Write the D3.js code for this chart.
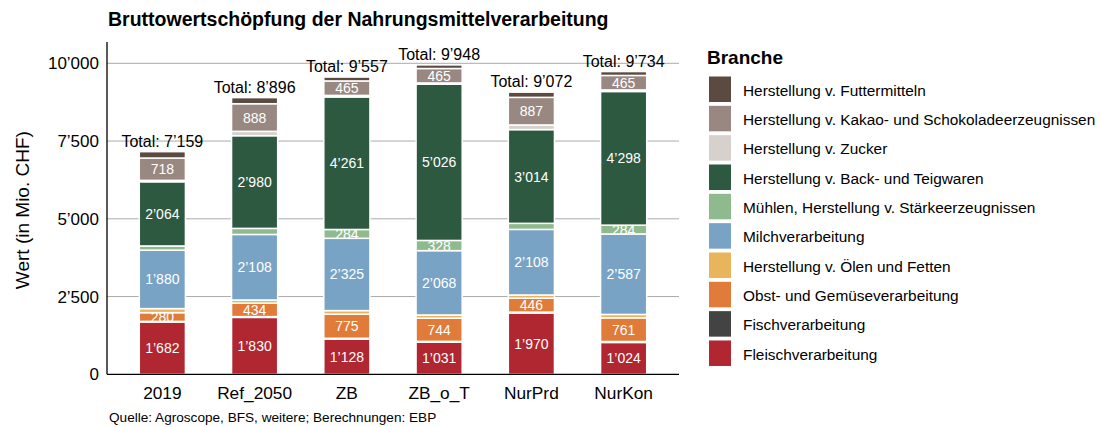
<!DOCTYPE html>
<html>
<head>
<meta charset="utf-8">
<script src="https://cdn.jsdelivr.net/npm/d3@7"></script>
<style>
  body { margin: 0; background: #fff; }
  svg { font-family: "Liberation Sans", Arial, sans-serif; }
</style>
</head>
<body>
<div id="chart"></div>
<script>
// scenarios on the x axis
const scenarios = ['2019', 'Ref_2050', 'ZB', 'ZB_o_T', 'NurPrd', 'NurKon'];

// branches, bottom of the stack first
const branches = [
  'Fleischverarbeitung',
  'Fischverarbeitung',
  'Obst- und Gemüseverarbeitung',
  'Herstellung v. Ölen und Fetten',
  'Milchverarbeitung',
  'Mühlen, Herstellung v. Stärkeerzeugnissen',
  'Herstellung v. Back- und Teigwaren',
  'Herstellung v. Zucker',
  'Herstellung v. Kakao- und Schokoladeerzeugnissen',
  'Herstellung v. Futtermitteln'
];
const colors = ['#b02631', '#434343', '#e07b39', '#e8b55c', '#79a3c5',
                '#8fba8d', '#2e5941', '#d7d1ce', '#998882', '#5b4a3f'];

// values per branch (Mio. CHF), in scenario order
const fleisch = [1682, 1830, 1128, 1031, 1970, 1024];
const fisch   = [20, 25, 30, 28, 30, 30];
const obst    = [280, 434, 775, 744, 446, 761];
const oele    = [130, 100, 115, 105, 105, 110];
const milch   = [1880, 2108, 2325, 2068, 2108, 2587];
const muehlen = [135, 195, 284, 328, 195, 284];
const back    = [2064, 2980, 4261, 5026, 3014, 4298];
const zucker  = [45, 140, 50, 38, 150, 50];
const kakao   = [718, 888, 465, 465, 887, 465];
const futter  = [205, 196, 124, 115, 167, 125];

const yTicks = [0, 2500, 5000, 7500, 10000];

const seriesValues = [fleisch, fisch, obst, oele, milch, muehlen, back, zucker, kakao, futter];
const table = scenarios.map((s, i) => {
  const row = { scenario: s };
  branches.forEach((b, j) => { row[b] = seriesValues[j][i]; });
  return row;
});

const fmt = v => d3.format(',')(v).replace(/,/g, '\u2019');

const width = 1100, height = 427;
const svg = d3.select('#chart').append('svg')
  .attr('width', width)
  .attr('height', height);

const plot = { left: 107, right: 679, top: 42, bottom: 374.3 };

const x = d3.scaleBand()
  .domain(scenarios)
  .range([plot.left, plot.right])
  .paddingInner(0.5)
  .paddingOuter(0.35);

const y = d3.scaleLinear()
  .domain([0, 10000])
  .range([plot.bottom, 63.3]);

// Title
svg.append('text')
  .attr('x', 108)
  .attr('y', 26)
  .style('font-size', '19.5px')
  .style('font-weight', 'bold')
  .text('Bruttowertschöpfung der Nahrungsmittelverarbeitung');

// Gridlines
svg.append('g')
  .selectAll('line')
  .data(yTicks.slice(1))
  .enter()
  .append('line')
  .attr('x1', plot.left)
  .attr('x2', plot.right)
  .attr('y1', d => y(d))
  .attr('y2', d => y(d))
  .attr('stroke', '#ababab')
  .attr('stroke-width', 1);

// Stacked bars
const stack = d3.stack().keys(branches)(table);

const layers = svg.append('g')
  .selectAll('g')
  .data(stack)
  .enter()
  .append('g')
  .attr('fill', (d, i) => colors[i]);

layers.selectAll('rect')
  .data(d => d)
  .enter()
  .append('rect')
  .attr('x', d => x(d.data.scenario))
  .attr('y', d => y(d[1]))
  .attr('width', x.bandwidth())
  .attr('height', d => y(d[0]) - y(d[1]))
  .attr('stroke', '#fff')
  .attr('stroke-width', 1.5);

// Segment labels (only for the larger segments)
const labelGroup = svg.append('g');
stack.forEach(layer => {
  layer.forEach(d => {
    const v = d[1] - d[0];
    if (v < 250) return;
    labelGroup.append('text')
      .attr('x', x(d.data.scenario) + x.bandwidth() / 2)
      .attr('y', y((d[0] + d[1]) / 2))
      .attr('dy', '0.36em')
      .attr('text-anchor', 'middle')
      .attr('fill', '#fff')
      .style('font-size', '14px')
      .text(fmt(v));
  });
});

// Totals
svg.append('g')
  .selectAll('text')
  .data(table)
  .enter()
  .append('text')
  .attr('x', d => x(d.scenario) + x.bandwidth() / 2)
  .attr('y', d => y(d3.sum(branches, b => d[b])) - 5)
  .attr('text-anchor', 'middle')
  .style('font-size', '16px')
  .text(d => 'Total: ' + fmt(d3.sum(branches, b => d[b])));

// Axes lines
svg.append('line')
  .attr('x1', plot.left).attr('x2', plot.left)
  .attr('y1', plot.top).attr('y2', plot.bottom)
  .attr('stroke', '#000').attr('stroke-width', 1.3);
svg.append('line')
  .attr('x1', plot.left).attr('x2', plot.right)
  .attr('y1', plot.bottom).attr('y2', plot.bottom)
  .attr('stroke', '#000').attr('stroke-width', 1.3);

// Y tick labels
svg.append('g')
  .selectAll('text')
  .data(yTicks)
  .enter()
  .append('text')
  .attr('x', 99)
  .attr('y', d => y(d))
  .attr('dy', '0.36em')
  .attr('text-anchor', 'end')
  .style('font-size', '17px')
  .text(d => fmt(d));

// X tick labels
svg.append('g')
  .selectAll('text')
  .data(scenarios)
  .enter()
  .append('text')
  .attr('x', d => x(d) + x.bandwidth() / 2)
  .attr('y', 399)
  .attr('text-anchor', 'middle')
  .style('font-size', '17.3px')
  .text(d => d);

// Y axis title
svg.append('text')
  .attr('transform', `translate(28.5, ${(plot.top + plot.bottom) / 2 + 2}) rotate(-90)`)
  .attr('text-anchor', 'middle')
  .style('font-size', '19px')
  .text('Wert (in Mio. CHF)');

// Caption
svg.append('text')
  .attr('x', 109)
  .attr('y', 422)
  .style('font-size', '13.6px')
  .text('Quelle: Agroscope, BFS, weitere; Berechnungen: EBP');

// Legend
const legend = svg.append('g').attr('transform', 'translate(707, 0)');
legend.append('text')
  .attr('x', 0)
  .attr('y', 64)
  .style('font-size', '19px')
  .style('font-weight', 'bold')
  .text('Branche');

const legendItems = branches.map((b, i) => ({ name: b, color: colors[i] })).reverse();
const rows = legend.selectAll('.row')
  .data(legendItems)
  .enter()
  .append('g')
  .attr('class', 'row')
  .attr('transform', (d, i) => `translate(0, ${76.5 + i * 29.33})`);

rows.append('rect')
  .attr('x', 2)
  .attr('y', 0)
  .attr('width', 22)
  .attr('height', 25.5)
  .attr('fill', d => d.color);

rows.append('text')
  .attr('x', 36)
  .attr('y', 13.5)
  .attr('dy', '0.36em')
  .style('font-size', '15.4px')
  .text(d => d.name);
</script>
</body>
</html>
